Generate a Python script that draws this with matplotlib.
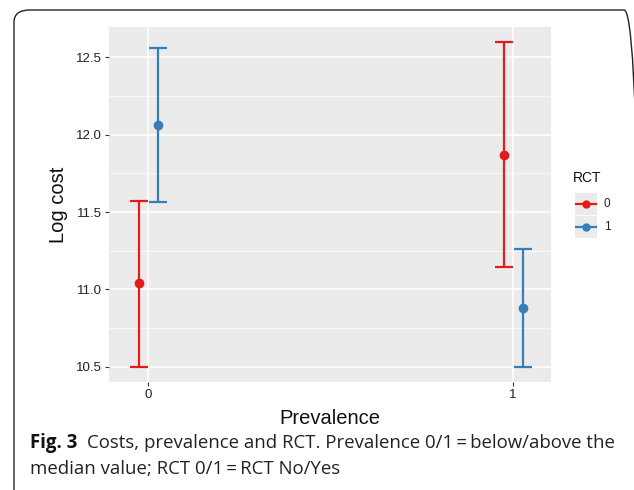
import matplotlib
matplotlib.use('Agg')
import matplotlib.pyplot as plt
from matplotlib.patches import FancyBboxPatch, Rectangle
from matplotlib.lines import Line2D

# data
prevalence = [0, 1]
rct_levels = ['0', '1']
mean_rct0 = [11.04, 11.865]
low_rct0 = [10.50, 11.145]
high_rct0 = [11.57, 12.595]
mean_rct1 = [12.06, 10.88]
low_rct1 = [11.565, 10.50]
high_rct1 = [12.56, 11.26]
colors = ['#E41A1C', '#377EB8']

W, H = 634, 490
fig = plt.figure(figsize=(W / 100, H / 100), dpi=100)
plt.rcParams['font.family'] = ['Liberation Sans', 'DejaVu Sans']


def fx(px):
    return px / W


def fy(py):
    return 1 - py / H


# rounded frame around figure + caption
frame = FancyBboxPatch((fx(14), fy(520)), fx(640) - fx(14), fy(10) - fy(520),
                       boxstyle="round,pad=0,rounding_size=0.025",
                       transform=fig.transFigure, fill=False,
                       edgecolor='#222222', linewidth=1.0, clip_on=False)
fig.patches.append(frame)

ax = fig.add_axes([fx(109), fy(382), fx(551) - fx(109), fy(27) - fy(382)])
ax.set_facecolor('#EBEBEB')
for s in ax.spines.values():
    s.set_visible(False)

dodge = 0.026
series = [(mean_rct0, low_rct0, high_rct0), (mean_rct1, low_rct1, high_rct1)]
for i, (m, lo, hi) in enumerate(series):
    off = -dodge if i == 0 else dodge
    xs = [p + off for p in prevalence]
    yerr = [[a - b for a, b in zip(m, lo)], [b - a for a, b in zip(m, hi)]]
    ax.errorbar(xs, m, yerr=yerr, fmt='o', color=colors[i], ms=6,
                elinewidth=1.6, capsize=6.5, capthick=1.6, zorder=3)

ax.set_xlim(-0.107, 1.104)
ax.set_ylim(10.403, 12.694)
ax.set_xticks(prevalence)
ax.set_xticklabels(['0', '1'])
ax.set_yticks([10.5, 11.0, 11.5, 12.0, 12.5])
ax.set_yticks([10.75, 11.25, 11.75, 12.25], minor=True)
ax.grid(which='major', color='white', linewidth=1.1)
ax.grid(which='minor', axis='y', color='white', linewidth=0.5)
ax.set_axisbelow(True)
ax.tick_params(axis='both', which='major', length=3, width=0.8,
               color='#333333', labelsize=9.5, labelcolor='#222222', pad=2)
ax.tick_params(axis='both', which='minor', length=0)
ax.set_xlabel('Prevalence', fontsize=14.5, color='#111111', labelpad=6)
ax.set_ylabel('Log cost', fontsize=14.5, color='#111111', labelpad=6)

# legend drawn by hand (ggplot style keys)
fig.text(fx(573), fy(178), 'RCT', fontsize=10, color='#111111', va='center')
for i, lab in enumerate(rct_levels):
    yc = 204 + i * 23
    fig.patches.append(Rectangle((fx(575), fy(yc + 11)), fx(22), fy(0) - fy(22),
                                 transform=fig.transFigure, facecolor='#EBEBEB',
                                 edgecolor='none'))
    fig.lines.append(Line2D([fx(576), fx(596)], [fy(yc), fy(yc)],
                            transform=fig.transFigure, color=colors[i],
                            linewidth=1.6, marker=None))
    fig.lines.append(Line2D([fx(586)], [fy(yc)], transform=fig.transFigure,
                            color=colors[i], marker='o', ms=5))
    fig.text(fx(604), fy(yc), lab, fontsize=8.5, color='#222222', va='center')

# caption
cap_font = ['Open Sans', 'DejaVu Sans']
cap_size = 13.4
t1 = fig.text(fx(30), fy(448), 'Fig. 3', fontsize=cap_size, fontweight='bold',
              family=cap_font, va='baseline', color='#111111')
fig.canvas.draw()
bb = t1.get_window_extent()
fig.text(bb.x1 / W + fx(10), fy(448),
         'Costs, prevalence and RCT. Prevalence 0/1\u2009=\u2009below/above the',
         fontsize=cap_size, family=cap_font, va='baseline', color='#222222')
fig.text(fx(30), fy(474), 'median value; RCT 0/1\u2009=\u2009RCT No/Yes',
         fontsize=cap_size, family=cap_font, va='baseline', color='#222222')

fig.savefig('out.png', dpi=100)
